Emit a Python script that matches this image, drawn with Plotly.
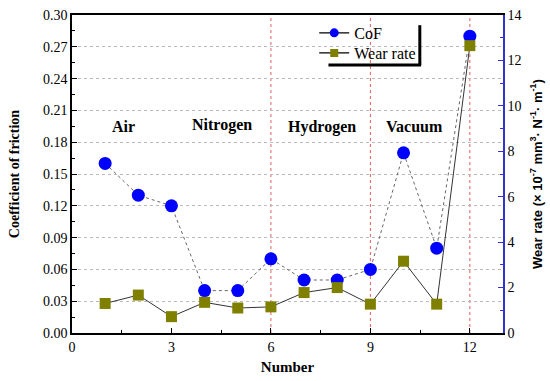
import plotly.graph_objects as go

numbers = [1, 2, 3, 4, 5, 6, 7, 8, 9, 10, 11, 12]
cof = [0.16, 0.13, 0.12, 0.04, 0.04, 0.07, 0.05, 0.05, 0.06, 0.17, 0.08, 0.28]
wear_rate = [1.3, 1.67, 0.72, 1.35, 1.1, 1.15, 1.78, 2.0, 1.27, 3.16, 1.27, 12.65]

env_labels = ["Air", "Nitrogen", "Hydrogen", "Vacuum"]
env_label_x = [1.55, 4.52, 7.53, 10.34]
env_label_y = [0.195, 0.196, 0.194, 0.195]
env_boundaries = [6, 9, 12]

serif = "Liberation Serif, Times New Roman, serif"
sans = "Liberation Sans, Arial, sans-serif"

fig = go.Figure()
fig.add_trace(go.Scatter(
    x=numbers, y=cof, name="CoF", mode="lines+markers", showlegend=False,
    line=dict(color="#666666", width=1, dash="dot"),
    marker=dict(symbol="circle", size=13, color="#0000FF"),
))
fig.add_trace(go.Scatter(
    x=numbers, y=wear_rate, name="Wear rate", mode="lines+markers", yaxis="y2", showlegend=False,
    line=dict(color="#333333", width=1),
    marker=dict(symbol="square", size=11, color="#808000"),
))
# legend entries (smaller symbols, as in the reference legend)
fig.add_trace(go.Scatter(
    x=[None], y=[None], name="CoF", mode="lines+markers", legend="legend",
    line=dict(color="black", width=1.2),
    marker=dict(symbol="circle", size=9, color="#0000FF"),
))
fig.add_trace(go.Scatter(
    x=[None], y=[None], name="Wear rate", mode="lines+markers", legend="legend2",
    line=dict(color="black", width=1.2),
    marker=dict(symbol="square", size=8, color="#808000"),
))

for xv in env_boundaries:
    fig.add_shape(type="line", xref="x", yref="paper", x0=xv, x1=xv, y0=0, y1=1,
                  line=dict(color="#E06060", width=1, dash="dot"), layer="below")

for t, xv, yv in zip(env_labels, env_label_x, env_label_y):
    fig.add_annotation(x=xv, y=yv, text="<b>%s</b>" % t, showarrow=False,
                       font=dict(family=serif, size=16, color="black"))

# legend shadow
fig.add_shape(type="line", xref="paper", yref="paper", x0=0.807, x1=0.807, y0=0.843, y1=0.968,
              line=dict(color="black", width=3))
fig.add_shape(type="line", xref="paper", yref="paper", x0=0.595, x1=0.81, y0=0.843, y1=0.843,
              line=dict(color="black", width=3))

legend_common = dict(xanchor="left", yanchor="top", bgcolor="rgba(255,255,255,0)", borderwidth=0,
                     font=dict(family=serif, size=16))

fig.update_layout(
    width=550, height=381,
    margin=dict(l=72, r=47, t=15, b=48, autoexpand=False),
    plot_bgcolor="white", paper_bgcolor="white",
    font=dict(family=serif, size=14, color="black"),
    showlegend=True,
    legend=dict(x=0.562, y=0.997, **legend_common),
    legend2=dict(x=0.562, y=0.934, **legend_common),
    xaxis=dict(range=[0, 13], tickvals=[0, 3, 6, 9, 12], showgrid=False, automargin=False,
               showline=True, linecolor="black", linewidth=1.5, mirror=True,
               ticks="inside", ticklen=5, tickcolor="black",
               minor=dict(tickvals=[1.5, 4.5, 7.5, 10.5], ticks="inside", ticklen=3, tickcolor="black"),
               zeroline=False,
               title=dict(text="<b>Number</b>", font=dict(family=serif, size=15), standoff=8),
               tickfont=dict(family=serif, size=14)),
    yaxis=dict(range=[0, 0.30], tickvals=[i * 0.03 for i in range(11)], tickformat=".2f",
               automargin=False,
               showgrid=True, gridcolor="#BBBBBB", griddash="dot", gridwidth=1,
               showline=True, linecolor="black", linewidth=1.5,
               ticks="inside", ticklen=5, tickcolor="black",
               minor=dict(dtick=0.015, ticks="inside", ticklen=3, tickcolor="black", showgrid=False),
               zeroline=False,
               title=dict(text="<b>Coefficient of friction</b>", font=dict(family=serif, size=14), standoff=20),
               tickfont=dict(family=serif, size=14)),
    yaxis2=dict(range=[0, 14], overlaying="y", side="right", tickvals=list(range(0, 15, 2)),
                automargin=False,
                showgrid=False, showline=True, linecolor="#3333CC", linewidth=1.5,
                ticks="inside", ticklen=5, tickcolor="#3333CC",
                minor=dict(dtick=1, ticks="inside", ticklen=3, tickcolor="#3333CC"),
                zeroline=False,
                title=dict(text="<b>Wear rate (× 10<sup>-7</sup> mm<sup>3</sup>· N<sup>-1</sup>· m<sup>-1</sup>)</b>",
                           font=dict(family=sans, size=13), standoff=12),
                tickfont=dict(family=serif, size=14)),
)

fig.write_html("out.html", post_script="document.body.style.margin='0';",
               config={"displayModeBar": False})
